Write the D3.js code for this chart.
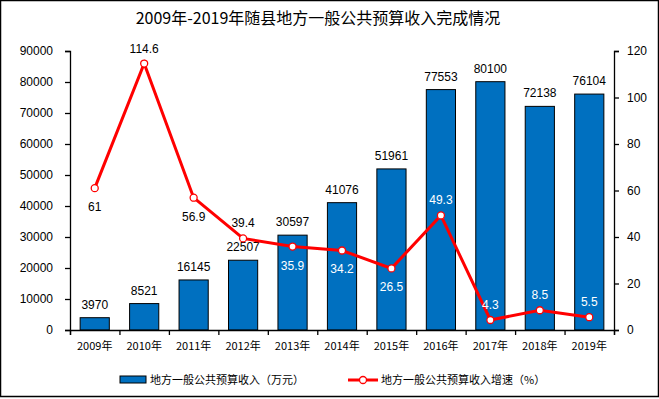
<!DOCTYPE html>
<html>
<head>
<meta charset="utf-8">
<script src="https://cdn.jsdelivr.net/npm/d3@7"></script>
<style>
  body { margin: 0; background: #fff; }
  svg text { font-family: "Liberation Sans", Arial, sans-serif; }
  .cjk { font-family: "Noto Sans CJK SC", sans-serif; }
</style>
</head>
<body>
<div id="graph"></div>
<script>
// chart data
let years = ["2009年", "2010年", "2011年", "2012年", "2013年", "2014年",
  "2015年", "2016年", "2017年", "2018年", "2019年"];
let revenue = [3970, 8521, 16145, 22507, 30597, 41076, 51961, 77553, 80100, 72138, 76104];
let growth = [61, 114.6, 56.9, 39.4, 35.9, 34.2, 26.5, 49.3, 4.3, 8.5, 5.5];
// where the growth label sits relative to its point
let growthLabelPos = ["below", "above", "below", "above", "below", "below",
  "below", "above", "above", "above", "above"];
let leftTicks = d3.range(0, 90001, 10000);
let rightTicks = d3.range(0, 121, 20);

let titleText = "2009年-2019年随县地方一般公共预算收入完成情况";
let barName = "地方一般公共预算收入（万元）";
let lineName = "地方一般公共预算收入增速（%）";

let W = 659, H = 399;
let margin = { top: 51, right: 45, bottom: 69, left: 70 },
  width = W - margin.left - margin.right,
  height = H - margin.top - margin.bottom;

let svg = d3.select("#graph").append("svg").attr("width", W).attr("height", H);

// outer frame
svg.append("rect").attr("x", 0.5).attr("y", 0.5)
  .attr("width", W - 1).attr("height", H - 3)
  .attr("fill", "none").attr("stroke", "#000").attr("stroke-width", 1.5);

svg.append("text").attr("class", "cjk")
  .attr("x", 318).attr("y", 24)
  .attr("text-anchor", "middle").attr("font-size", 16).attr("fill", "#000")
  .text(titleText);

let g = svg.append("g").attr("transform", `translate(${margin.left},${margin.top})`);

let x = d3.scaleBand().domain(years).range([0, width]).paddingInner(0.41).paddingOuter(0.205);
let xEdge = d3.scaleLinear().domain([0, years.length]).range([0, width]);
let y = d3.scaleLinear().domain([0, 90000]).range([height, 0]);
let y2 = d3.scaleLinear().domain([0, 120]).range([height, 0]);

// bars
g.selectAll("rect.bar").data(revenue).join("rect")
  .attr("class", "bar")
  .attr("x", (d, i) => x(years[i]))
  .attr("y", d => y(d))
  .attr("width", x.bandwidth())
  .attr("height", d => height - y(d))
  .attr("fill", "#0070C0")
  .attr("stroke", "#000").attr("stroke-width", 1);

// bar labels
g.selectAll("text.barlab").data(revenue).join("text")
  .attr("class", "barlab")
  .attr("x", (d, i) => x(years[i]) + x.bandwidth() / 2)
  .attr("y", d => y(d) - 9)
  .attr("text-anchor", "middle").attr("font-size", 12).attr("fill", "#000")
  .text(d => d);

// axes
let leftAxis = g.append("g")
  .call(d3.axisLeft(y).tickValues(leftTicks).tickSize(5).tickPadding(12).tickFormat(d3.format("d")));
let rightAxis = g.append("g").attr("transform", `translate(${width},0)`)
  .call(d3.axisRight(y2).tickValues(rightTicks).tickSize(5).tickPadding(8));
let bottomAxis = g.append("g").attr("transform", `translate(0,${height})`)
  .call(d3.axisBottom(xEdge).tickValues(d3.range(0, years.length + 1)).tickSize(5).tickFormat(""));
g.append("g").selectAll("text").data(years).join("text")
  .attr("class", "cjk")
  .attr("x", d => x(d) + x.bandwidth() / 2)
  .attr("y", height + 20)
  .attr("text-anchor", "middle").attr("font-size", 11).attr("fill", "#000")
  .text(d => d);
[leftAxis, rightAxis, bottomAxis].forEach(a => {
  a.selectAll("path, line").attr("stroke", "#000").attr("stroke-width", 1.3);
  a.selectAll("text").attr("font-size", 12).attr("fill", "#000")
    .attr("font-family", "Liberation Sans, Arial, sans-serif");
});

// growth line
let cx = i => x(years[i]) + x.bandwidth() / 2;
let line = d3.line().x((d, i) => cx(i)).y(d => y2(d));
g.append("path").datum(growth)
  .attr("d", line).attr("fill", "none")
  .attr("stroke", "#FF0000").attr("stroke-width", 3);
g.selectAll("circle.pt").data(growth).join("circle")
  .attr("class", "pt")
  .attr("cx", (d, i) => cx(i)).attr("cy", d => y2(d)).attr("r", 3.5)
  .attr("fill", "#fff").attr("stroke", "#FF0000").attr("stroke-width", 1.3);

g.selectAll("text.linelab").data(growth).join("text")
  .attr("class", "linelab")
  .attr("x", (d, i) => cx(i))
  .attr("y", (d, i) => growthLabelPos[i] === "above" ? y2(d) - 11 : y2(d) + 23)
  .attr("text-anchor", "middle").attr("font-size", 12)
  .attr("fill", (d, i) => {
    let ly = growthLabelPos[i] === "above" ? y2(d) - 15 : y2(d) + 18;
    return ly > y(revenue[i]) ? "#fff" : "#000";
  })
  .text(d => d);

// legend
let lg = svg.append("g").attr("transform", "translate(0,380)");
lg.append("rect").attr("x", 120).attr("y", -4).attr("width", 26).attr("height", 7)
  .attr("fill", "#0070C0").attr("stroke", "#000").attr("stroke-width", 1);
lg.append("text").attr("class", "cjk").attr("x", 150).attr("y", 4)
  .attr("font-size", 11).attr("fill", "#000").text(barName);
lg.append("line").attr("x1", 348).attr("x2", 378).attr("y1", 0).attr("y2", 0)
  .attr("stroke", "#FF0000").attr("stroke-width", 3);
lg.append("circle").attr("cx", 363).attr("cy", 0).attr("r", 3.5)
  .attr("fill", "#fff").attr("stroke", "#FF0000").attr("stroke-width", 1.3);
lg.append("text").attr("class", "cjk").attr("x", 381).attr("y", 4)
  .attr("font-size", 11).attr("fill", "#000").text(lineName);
</script>
</body>
</html>
